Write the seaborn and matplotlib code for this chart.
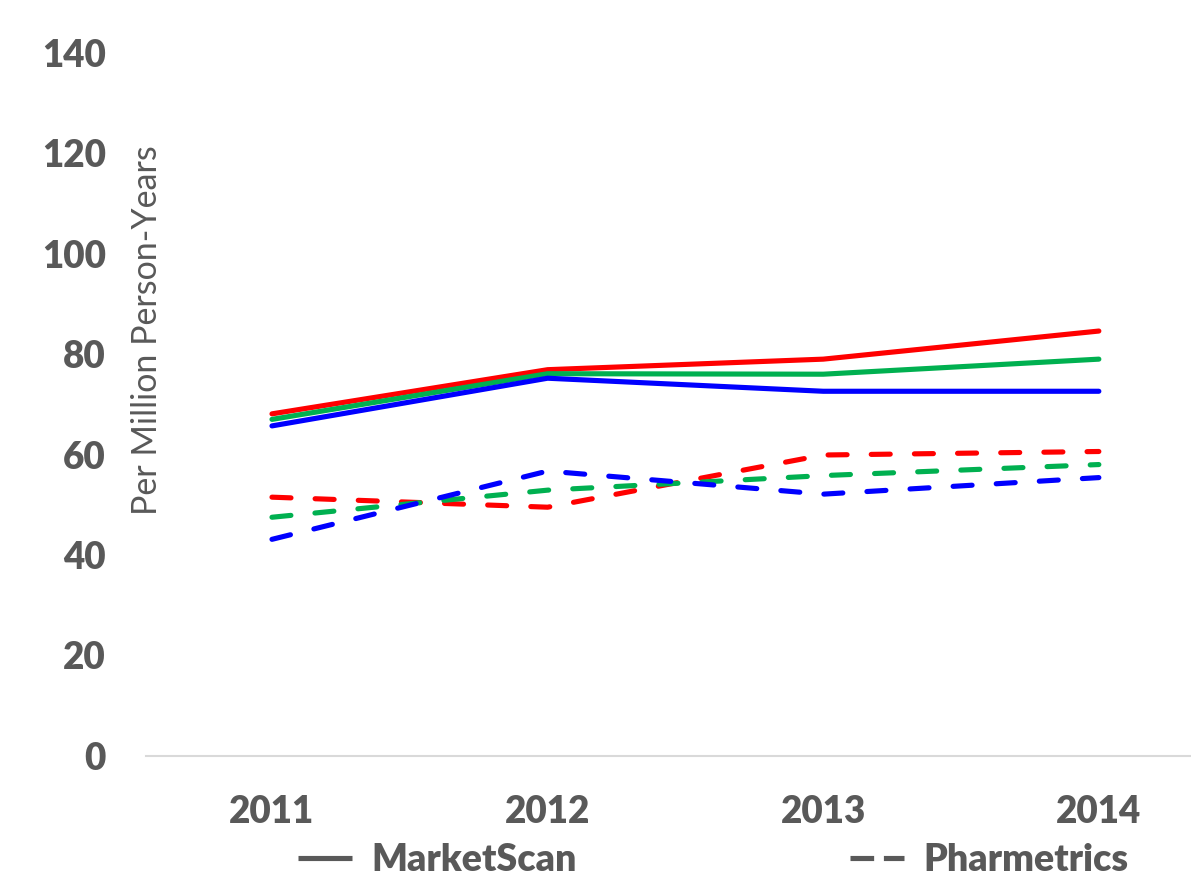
import matplotlib
matplotlib.use("Agg")
import matplotlib.pyplot as plt
from matplotlib.lines import Line2D
import seaborn as sns
import pandas as pd

years = ["2011", "2012", "2013", "2014"]

marketscan_red = [68.1, 76.9, 79.0, 84.6]
marketscan_green = [67.0, 76.1, 76.0, 79.0]
marketscan_blue = [65.7, 75.2, 72.6, 72.6]

pharmetrics_red = [51.5, 49.5, 59.9, 60.6]
pharmetrics_green = [47.5, 52.9, 55.8, 58.0]
pharmetrics_blue = [43.1, 56.7, 52.1, 55.4]

y_ticks = [0, 20, 40, 60, 80, 100, 120, 140]
y_label = "Per Million Person-Years"
legend_labels = ["MarketScan", "Pharmetrics"]

RED, GREEN, BLUE = "#FF0000", "#00B050", "#0000FF"
TXT = "#595959"

sns.set_theme(style="white")
plt.rcParams["font.family"] = ["Lato", "DejaVu Sans"]

fig = plt.figure(figsize=(11.91, 8.8), dpi=100)
ax = fig.add_axes([0.1226, 0.1413, 0.8764, 0.7985])

pos = list(range(len(years)))
series = [
    (marketscan_red, RED, "solid"),
    (marketscan_green, GREEN, "solid"),
    (marketscan_blue, BLUE, "solid"),
    (pharmetrics_red, RED, "dash"),
    (pharmetrics_green, GREEN, "dash"),
    (pharmetrics_blue, BLUE, "dash"),
]
for vals, col, st in series[3:] + series[:3]:
    df = pd.DataFrame({"x": pos, "y": vals})
    kw = dict(color=col, linewidth=3.7, solid_capstyle="round", dash_capstyle="round")
    sns.lineplot(data=df, x="x", y="y", ax=ax, legend=False, **kw)
    line = ax.lines[-1]
    if st == "dash":
        line.set_dashes((3.7, 4.7))
        line.set_dash_capstyle("round")

ax.set_xlim(-0.457, 3.33)
ax.set_ylim(0, 140)
ax.set_xticks(pos)
ax.set_xticklabels(years)
ax.set_yticks(y_ticks)
ax.set_yticklabels([str(t) for t in y_ticks])
ax.tick_params(axis="both", length=0, labelsize=26.5, labelcolor=TXT)
ax.tick_params(axis="y", pad=29)
ax.tick_params(axis="x", pad=28)
for lab in ax.get_xticklabels() + ax.get_yticklabels():
    lab.set_fontweight("heavy")
ax.set_xlabel("")
ax.set_ylabel("")
for s in ["top", "right", "left"]:
    ax.spines[s].set_visible(False)
ax.spines["bottom"].set_color("#D9D9D9")
ax.spines["bottom"].set_linewidth(1.5)
ax.grid(False)

fig.text(147 / 1191, 1 - 330 / 880, y_label, rotation=90, ha="center", va="center",
         fontsize=24.5, color=TXT)

h1 = Line2D([], [], color=TXT, linewidth=3.7, solid_capstyle="butt")
h2 = Line2D([], [], color=TXT, linewidth=3.7, dashes=(4.6, 1.9), dash_capstyle="butt")
leg = fig.legend([h1, h2], legend_labels, loc="center", bbox_to_anchor=(713 / 1191, 20 / 880),
                 ncol=2, frameon=False, handlelength=1.45, handletextpad=0.5,
                 columnspacing=7.3,
                 prop={"family": ["Lato", "DejaVu Sans"], "weight": "heavy", "size": 27})
for t in leg.get_texts():
    t.set_color(TXT)

fig.savefig("out.png", dpi=100)
